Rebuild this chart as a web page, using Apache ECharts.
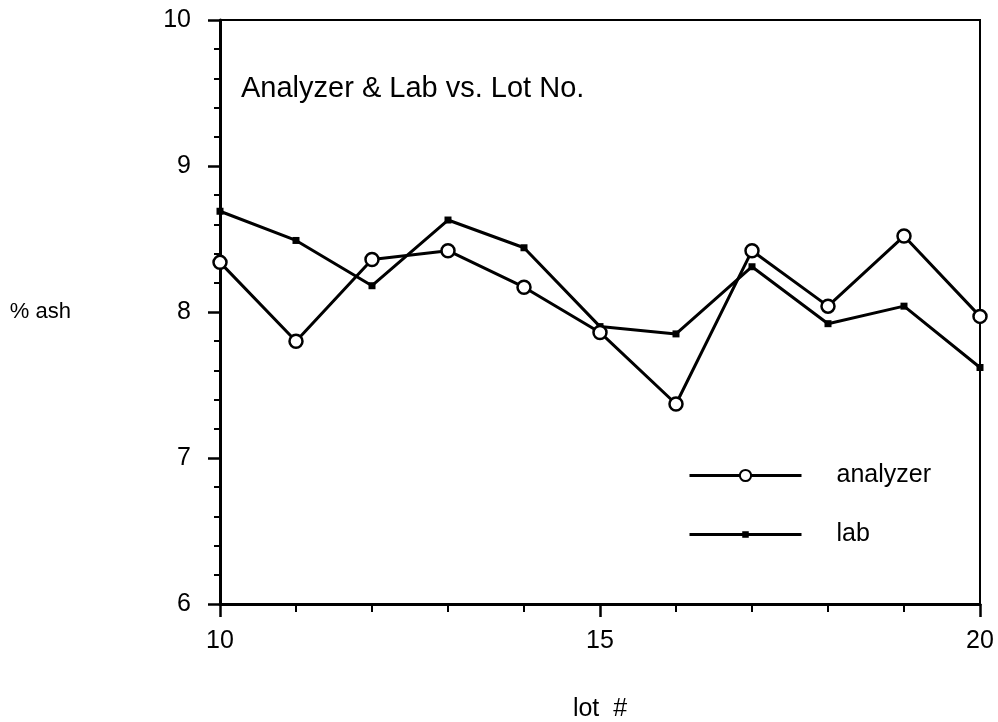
<!DOCTYPE html>
<html><head><meta charset="utf-8">
<script src="https://cdn.jsdelivr.net/npm/echarts@6/dist/echarts.min.js"></script>
<style>html,body{margin:0;padding:0;background:#fff}#c{width:998px;height:722px}</style>
</head><body><div id="c"></div>
<script>
var lots = [10, 11, 12, 13, 14, 15, 16, 17, 18, 19, 20];
var analyzer = [8.34, 7.80, 8.36, 8.42, 8.17, 7.86, 7.37, 8.42, 8.04, 8.52, 7.97];
var lab = [8.69, 8.49, 8.18, 8.63, 8.44, 7.90, 7.85, 8.31, 7.92, 8.04, 7.62];
var titleText = 'Analyzer & Lab vs. Lot No.';
var yName = '% ash';
var xName = 'lot  #';

function pairs(xs, ys){ return xs.map(function(x,i){ return [x, ys[i]]; }); }
var font = '"Liberation Sans", Arial, Helvetica, sans-serif';
var smallSquare = 'path://M0,0M2.5,2.5h7v7h-7zM12,12';
var chart = echarts.init(document.getElementById('c'));
chart.setOption({
  animation: false,
  backgroundColor: '#fff',
  title: { text: titleText, left: 236, top: 69,
    textStyle: { fontFamily: font, fontSize: 29, fontWeight: 'normal', color: '#000' } },
  grid: { left: 220, right: 18, top: 20, bottom: 118, outerBoundsMode: 'none', containLabel: false,
    show: true, borderColor: '#000', borderWidth: 2, backgroundColor: 'transparent' },
  legend: {
    orient: 'vertical', left: 683, top: 458, itemWidth: 112, itemHeight: 14, itemGap: 34,
    lineStyle: { width: 3 },
    textStyle: { fontFamily: font, fontSize: 25, color: '#000', padding: [0,0,0,30] },
    data: ['analyzer', 'lab']
  },
  xAxis: {
    type: 'value', min: 10, max: 20, interval: 5,
    name: xName, nameLocation: 'middle', nameGap: 93,
    nameTextStyle: { fontFamily: font, fontSize: 25, color: '#000' },
    axisLine: { lineStyle: { color: '#000', width: 3 } },
    axisTick: { inside: false, length: 13, lineStyle: { color: '#000', width: 2.5 } },
    minorTick: { show: true, splitNumber: 5, length: 8, lineStyle: { color: '#000', width: 2 } },
    axisLabel: { fontFamily: font, fontSize: 25, color: '#000', margin: 25 },
    splitLine: { show: false }
  },
  yAxis: {
    type: 'value', min: 6, max: 10, interval: 1,
    name: yName, nameLocation: 'middle', nameGap: 149, nameRotate: 0,
    nameTextStyle: { fontFamily: font, fontSize: 22, color: '#000' },
    axisLine: { lineStyle: { color: '#000', width: 3 } },
    axisTick: { inside: false, length: 12, lineStyle: { color: '#000', width: 2.5 } },
    minorTick: { show: true, splitNumber: 5, length: 6, lineStyle: { color: '#000', width: 2 } },
    axisLabel: { fontFamily: font, fontSize: 25, color: '#000', margin: 29 },
    splitLine: { show: false }
  },
  series: [
    { name: 'analyzer', type: 'line', data: pairs(lots, analyzer),
      symbol: 'circle', symbolSize: 13,
      lineStyle: { color: '#000', width: 3 },
      itemStyle: { color: '#fff', borderColor: '#000', borderWidth: 2.5 }, z: 3 },
    { name: 'lab', type: 'line', data: pairs(lots, lab),
      symbol: smallSquare, symbolSize: 12,
      lineStyle: { color: '#000', width: 3 },
      itemStyle: { color: '#000', borderColor: '#000', borderWidth: 0 }, z: 2 }
  ]
});
</script></body></html>
